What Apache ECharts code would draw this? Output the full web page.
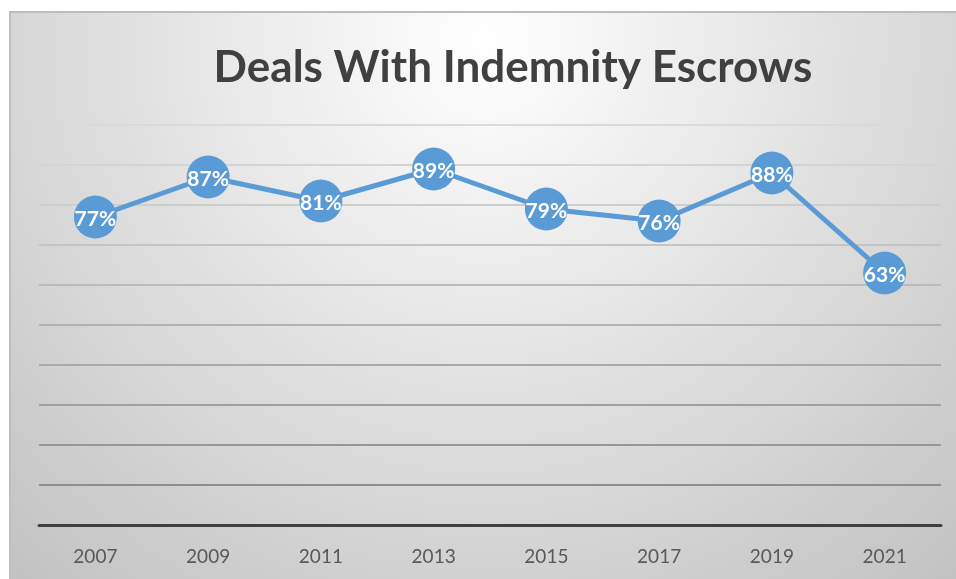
<!DOCTYPE html>
<html>
<head>
<meta charset="utf-8">
<script src="https://cdn.jsdelivr.net/npm/echarts@6/dist/echarts.min.js"></script>
<style>
html,body{margin:0;padding:0;background:#fff;}
#chart{width:956px;height:579px;}
</style>
</head>
<body>
<div id="chart"></div>
<script>
var titleText = 'Deals With Indemnity Escrows';
var categories = ['2007','2009','2011','2013','2015','2017','2019','2021'];
var values = [77, 87, 81, 89, 79, 76, 88, 63];
var yTicks = {min: 0, max: 100, interval: 10};

var chart = echarts.init(document.getElementById('chart'), null, {renderer: 'canvas'});
var option = {
  backgroundColor: '#ffffff',
  animation: false,
  graphic: [{
    type: 'rect',
    z: -10,
    silent: true,
    shape: {x: 10, y: 12, width: 950, height: 570},
    style: {
      fill: new echarts.graphic.RadialGradient(0.5, 0.05, 1.25, [
        {offset: 0, color: '#ffffff'},
        {offset: 1, color: '#c2c2c2'}
      ]),
      stroke: '#bdbdbd',
      lineWidth: 2
    }
  }],
  title: {
    text: titleText,
    left: 508,
    top: 41,
    textAlign: 'center',
    textStyle: {
      fontFamily: 'Lato',
      fontWeight: 'bold',
      fontSize: 44,
      color: '#404040'
    }
  },
  grid: {left: 39, right: 15, top: 125, bottom: 54, containLabel: false},
  xAxis: {
    type: 'category',
    data: categories,
    boundaryGap: true,
    axisLine: {show: true, lineStyle: {color: '#404040', width: 3}},
    axisTick: {show: false},
    axisLabel: {
      color: '#595959',
      fontFamily: 'Lato',
      fontSize: 19,
      margin: 22
    },
    splitLine: {show: false}
  },
  yAxis: {
    type: 'value',
    min: yTicks.min,
    max: yTicks.max,
    interval: yTicks.interval,
    axisLine: {show: false},
    axisTick: {show: false},
    axisLabel: {show: false},
    splitLine: {
      show: true,
      lineStyle: {
        width: 2,
        color: ['#404040','#8e8e8e','#979797','#a0a0a0','#a9a9a9','#b2b2b2','#bbbbbb','#c4c4c4','#cdcdcd','#d4d4d4','#dadada']
      }
    }
  },
  series: [{
    type: 'line',
    data: values,
    symbol: 'circle',
    symbolSize: 43,
    lineStyle: {color: '#5b9bd5', width: 5},
    itemStyle: {color: '#5b9bd5'},
    label: {
      show: true,
      position: 'inside',
      formatter: function (p) { return p.value + '%'; },
      color: '#ffffff',
      fontFamily: 'Lato',
      fontWeight: 'bold',
      fontSize: 21,
      offset: [0, 2]
    },
    z: 5
  }]
};
chart.setOption(option);
</script>
</body>
</html>
